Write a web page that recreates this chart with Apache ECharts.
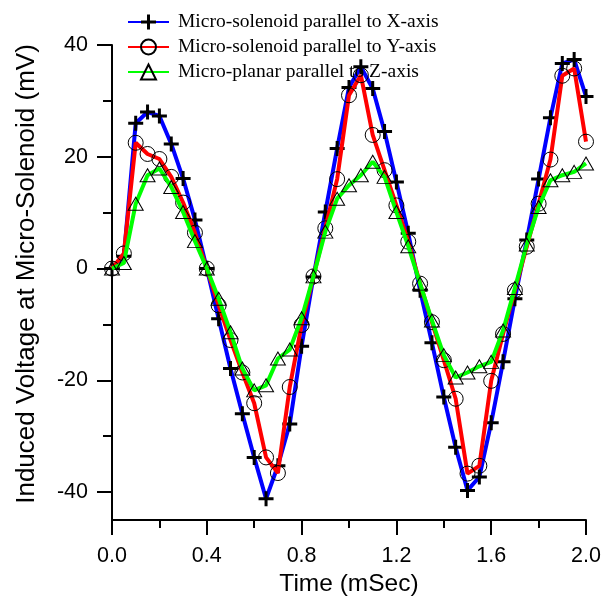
<!DOCTYPE html>
<html>
<head>
<meta charset="utf-8">
<script src="https://cdn.jsdelivr.net/npm/echarts@6/dist/echarts.min.js"></script>
<style>
html,body{margin:0;padding:0;background:#fff;}
#chart{width:613px;height:596px;}
</style>
</head>
<body>
<div id="chart"></div>
<script>
const times = [0.00,0.05,0.10,0.15,0.20,0.25,0.30,0.35,0.40,0.45,0.50,0.55,0.60,0.65,0.70,0.75,0.80,0.85,0.90,0.95,1.00,1.05,1.10,1.15,1.20,1.25,1.30,1.35,1.40,1.45,1.50,1.55,1.60,1.65,1.70,1.75,1.80,1.85,1.90,1.95,2.00];
const solenoidX = [0,2.2,26,28,27.3,22.3,16.1,8.7,0,-9,-17.9,-26,-33.8,-41.2,-35.3,-27.8,-13.9,-1.5,10.1,21.5,32.4,36.1,32.2,24.5,15.5,6.3,-3.9,-13.3,-23.0,-32,-39.7,-37.3,-27.6,-16.7,-5.4,5.1,16,27,36.7,37.4,30.8];
const solenoidY = [0,2.7,22.5,20.5,19.6,16.4,11.8,6.4,0,-6.6,-12.8,-18.6,-24.1,-33.8,-36.6,-21.2,-10.1,-1.4,7.2,16,31,34.6,23.9,17.6,11.3,4.8,-2.7,-9.6,-16.4,-23.3,-36.7,-35.3,-20.1,-11.7,-3.9,3.9,11.6,19.5,34.5,35.8,22.7];
const planarZ = [0,1.0,11.6,16.7,17.9,14.6,10.1,4.9,0,-5.4,-11.4,-17.9,-21.8,-20.9,-16.1,-14.5,-8.9,-1.4,6.6,12.5,14.9,16.7,19.1,16.4,10.1,4.0,-2.7,-9.3,-15.5,-19.5,-18.6,-17.5,-16.7,-11.1,-3.5,4.3,11.0,15.8,16.7,17.3,18.8];
const seriesNames = ['Micro-solenoid parallel to X-axis','Micro-solenoid parallel to Y-axis','Micro-planar parallel to Z-axis'];
const xTickMin = 0, xTickMax = 2.0, xTickStep = 0.4;
const yTickMin = -40, yTickMax = 40, yTickStep = 20;
const yAxisBottom = -45;
const xTitle = 'Time (mSec)';
const yTitle = 'Induced Voltage at Micro-Solenoid (mV)';

function pairs(vals){ return times.map((t,i)=>[t, vals[i]]); }

const plusPath = 'path://M6,0H9V6H15V9H9V15H6V9H0V6H6Z';
const axisFont = 'Liberation Sans, Arial, sans-serif';

const chart = echarts.init(document.getElementById('chart'), null, {renderer:'canvas'});
chart.setOption({
  backgroundColor:'#ffffff',
  animation:false,
  legend:{
    orient:'vertical', left:127, top:12, padding:0,
    itemWidth:41, itemHeight:18.75, itemGap:5,
    textStyle:{fontFamily:'Liberation Serif, Times New Roman, serif', fontSize:19.5, color:'#000', padding:[0,0,0,4]},
    data:seriesNames
  },
  grid:[
    {left:112, right:27, top:45, bottom:76, containLabel:false, outerBoundsMode:'none'},
    {left:112, right:27, top:45, bottom:104, containLabel:false, outerBoundsMode:'none'}
  ],
  xAxis:[
    {type:'value', gridIndex:0, min:xTickMin, max:xTickMax, interval:xTickStep,
     axisLine:{show:true, onZero:false, lineStyle:{color:'#000', width:2}},
     axisTick:{show:true, inside:false, length:15, lineStyle:{color:'#000', width:2}},
     minorTick:{show:true, splitNumber:2, length:8, lineStyle:{color:'#000', width:2}},
     splitLine:{show:false},
     axisLabel:{fontFamily:axisFont, fontSize:21.5, color:'#000', margin:25, formatter:v=>v.toFixed(1)},
     name:xTitle, nameLocation:'middle', nameGap:48,
     nameTextStyle:{fontFamily:axisFont, fontSize:24.5, color:'#000'}},
    {type:'value', gridIndex:1, min:0, max:2, show:false}
  ],
  yAxis:[
    {type:'value', gridIndex:0, min:yAxisBottom, max:yTickMax,
     axisLine:{show:true, onZero:false, lineStyle:{color:'#000', width:2}},
     axisTick:{show:false}, axisLabel:{show:false}, splitLine:{show:false}},
    {type:'value', gridIndex:1, min:yTickMin, max:yTickMax, interval:yTickStep,
     axisLine:{show:false},
     axisTick:{show:true, inside:false, length:15, lineStyle:{color:'#000', width:2}},
     minorTick:{show:true, splitNumber:2, length:9, lineStyle:{color:'#000', width:2}},
     splitLine:{show:false},
     axisLabel:{fontFamily:axisFont, fontSize:21.5, color:'#000', margin:24},
     name:yTitle, nameLocation:'middle', nameGap:72, nameRotate:90,
     nameTextStyle:{fontFamily:axisFont, fontSize:26, color:'#000', padding:[0,11,0,0]}}
  ],
  series:[
    {name:seriesNames[0], type:'line', xAxisIndex:0, yAxisIndex:0, data:pairs(solenoidX),
     symbol:plusPath, symbolSize:15, showAllSymbol:true,
     lineStyle:{color:'#0000ff', width:4},
     itemStyle:{color:'#000000', borderWidth:0}, z:2},
    {name:seriesNames[1], type:'line', xAxisIndex:0, yAxisIndex:0, data:pairs(solenoidY),
     symbol:'circle', symbolSize:15, showAllSymbol:true,
     lineStyle:{color:'#ff0000', width:4},
     itemStyle:{color:'rgba(0,0,0,0)', borderColor:'#000', borderWidth:1}, z:3},
    {name:seriesNames[2], type:'line', xAxisIndex:0, yAxisIndex:0, data:pairs(planarZ),
     symbol:'triangle', symbolSize:[15,13], showAllSymbol:true,
     lineStyle:{color:'#00ff00', width:4},
     itemStyle:{color:'rgba(0,0,0,0)', borderColor:'#000', borderWidth:1}, z:4}
  ]
});
</script>
</body>
</html>
